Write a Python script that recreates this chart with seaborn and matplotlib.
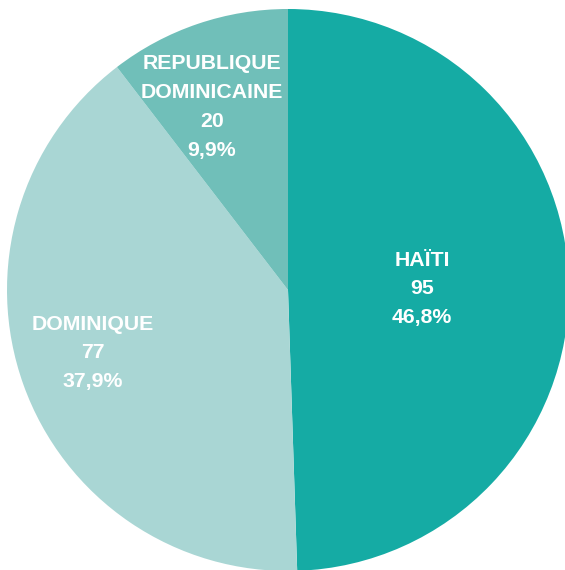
import matplotlib
matplotlib.use("Agg")
import matplotlib.pyplot as plt
import seaborn as sns

categories = ["HAÏTI", "DOMINIQUE", "REPUBLIQUE\nDOMINICAINE"]
values = [95, 77, 20]
percent_labels = ["46,8%", "37,9%", "9,9%"]
colors = ["#15ABA4", "#A9D6D4", "#70BFB9"]

sns.set_theme(style="white")
plt.rcParams['font.family'] = ['Liberation Sans', 'DejaVu Sans']

W, H = 565, 570
fig = plt.figure(figsize=(W / 100, H / 100), dpi=100)
ax = fig.add_axes([0, 0, 1, 1])
R = 281.0
cx, cy = 288.0, 290.0

wedges, _ = ax.pie(values, colors=colors, startangle=90, counterclock=False,
                   radius=1.0, wedgeprops=dict(linewidth=0))

ax.set_xlim(-cx / R, (W - cx) / R)
ax.set_ylim(-(H - cy) / R, cy / R)
ax.set_aspect("auto")
ax.axis("off")

# label positions (pixel centers of each text block)
label_pos = [(422, 289), (93, 353), (212, 107)]
for cat, v, p, (px, py) in zip(categories, values, percent_labels, label_pos):
    x = (px - cx) / R
    y = (cy - py) / R
    ax.text(x, y, f"{cat}\n{v}\n{p}", ha="center", va="center", color="white",
            fontsize=15.3, fontweight="bold", linespacing=1.66)

fig.savefig("out.png", dpi=100)
